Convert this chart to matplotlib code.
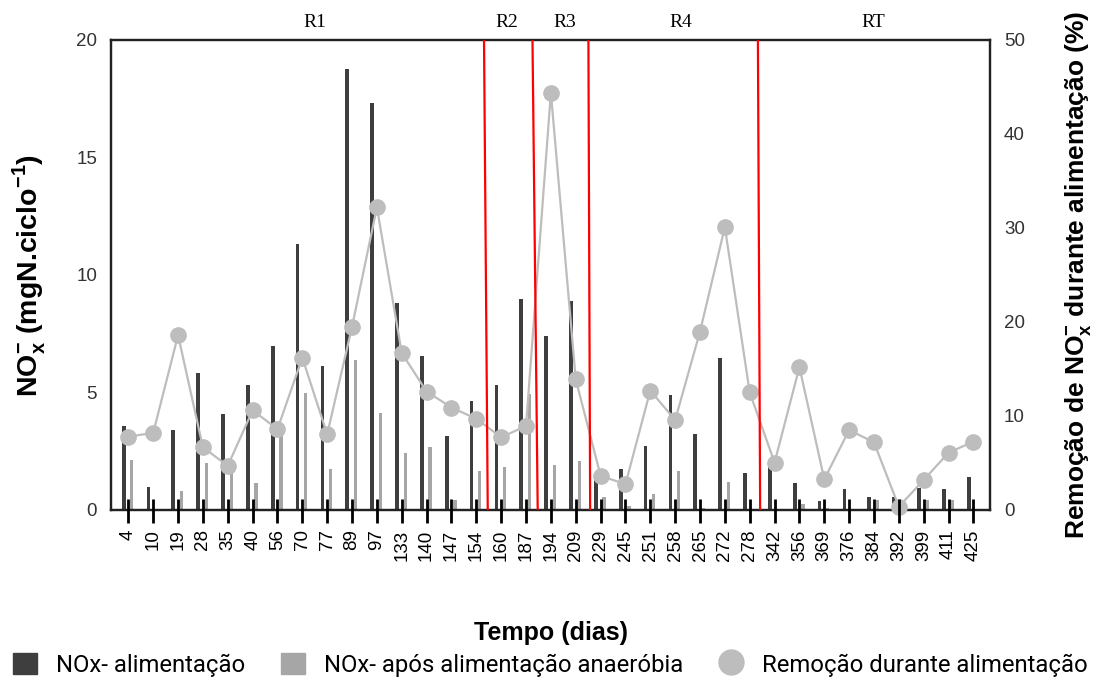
import matplotlib
matplotlib.use("Agg")
import matplotlib.pyplot as plt
from matplotlib.lines import Line2D
from matplotlib.patches import Patch
import numpy as np

plt.rcParams['font.family'] = ['Liberation Sans', 'DejaVu Sans']
plt.rcParams['mathtext.fontset'] = 'custom'
plt.rcParams['mathtext.rm'] = 'Liberation Sans'
plt.rcParams['mathtext.bf'] = 'Liberation Sans:bold'

dias = [4, 10, 19, 28, 35, 40, 56, 70, 77, 89, 97, 133, 140, 147, 154, 160, 187,
        194, 209, 229, 245, 251, 258, 265, 272, 278, 342, 356, 369, 376, 384, 392,
        399, 411, 425]
nox_alim = [3.57, 0.99, 3.4, 5.82, 4.07, 5.32, 6.98, 11.3, 6.14, 18.75, 17.33,
            8.82, 6.57, 3.16, 4.65, 5.32, 8.99, 7.4, 8.91, 1.42, 1.73, 2.74, 4.89,
            3.23, 6.48, 1.56, 1.99, 1.16, 0.4, 0.89, 0.57, 0.54, 0.95, 0.89, 1.42]
nox_anaer = [2.13, 0.05, 0.82, 1.99, 1.84, 1.16, 3.4, 4.99, 1.73, 6.38, 4.14,
             2.41, 2.67, 0.43, 1.66, 1.82, 4.92, 1.91, 2.09, 0.57, 0.15, 0.67, 1.66,
             0.1, 1.21, 0.05, 0.05, 0.26, 0.07, 0.0, 0.43, 0.0, 0.43, 0.43, 0.0]
remocao = [7.8, 8.2, 18.6, 6.67, 4.7, 10.6, 8.6, 16.2, 8.05, 19.5, 32.2, 16.7,
           12.6, 10.9, 9.7, 7.73, 8.94, 44.4, 13.9, 3.65, 2.73, 12.7, 9.57, 18.97,
           30.1, 12.5, 5.04, 15.2, 3.26, 8.5, 7.2, 0.35, 3.19, 6.1, 7.27]
# region boundaries (category position at top, at bottom) and region labels
fronteiras = [(14.31, 14.46), (16.26, 16.47), (18.51, 18.58), (25.33, 25.42)]
regioes = ['R1', 'R2', 'R3', 'R4', 'RT']
regioes_pos = [7.51, 15.24, 17.57, 22.24, 29.97]

c_dark = '#3e3e3e'
c_light = '#a6a6a6'
c_circ = '#bdbdbd'

fig = plt.figure(figsize=(11.03, 6.86), dpi=100)
ax = fig.add_axes([0.1006, 0.2566, 0.7970, 0.6851])
x = np.arange(len(dias))

ax.bar(x - 0.19, nox_alim, width=0.15, color=c_dark, zorder=2)
ax.bar(x + 0.14, nox_anaer, width=0.13, color=c_light, zorder=2)
ax.set_ylim(0, 20)
ax.set_xlim(-0.7, len(dias) - 1 + 0.67)
ax.set_yticks([0, 5, 10, 15, 20])
ax.tick_params(axis='y', length=0, labelsize=13.5, labelcolor='#333333', pad=10)
ax.set_xticks(x)
ax.set_xticklabels([str(d) for d in dias], rotation=90, fontsize=13.5)
ax.tick_params(axis='x', length=0, pad=14)
for s in ax.spines.values():
    s.set_color('#222222')
    s.set_linewidth(1.6)

ax2 = ax.twinx()
ax2.set_ylim(0, 50)
ax2.set_yticks([0, 10, 20, 30, 40, 50])
ax2.tick_params(axis='y', length=0, labelsize=13.5, labelcolor='#333333', pad=10)
ax2.plot(x, remocao, color=c_circ, lw=1.6, marker='o', markersize=11,
         markerfacecolor=c_circ, markeredgecolor=c_circ, zorder=3, clip_on=False)
for s in ax2.spines.values():
    s.set_color('#222222')
    s.set_linewidth(1.6)

for (xt, xb) in fronteiras:
    ax2.plot([xt, xb], [50, 0], color='red', lw=1.6, zorder=4)

# category tick marks crossing the bottom axis, above bars and line
ax2.vlines(x, -0.028, 0.024, transform=ax2.get_xaxis_transform(), colors='black',
           lw=2.0, clip_on=False, zorder=6)

for lab, p in zip(regioes, regioes_pos):
    ax.text(p, 1.038, lab, transform=ax.get_xaxis_transform(), ha='center',
            va='center', fontsize=14, family='Liberation Serif')

ax.set_ylabel(r'NO$_\mathbf{x}^\mathbf{-}$ (mgN.ciclo$^\mathbf{-1}$)', fontsize=20.5,
              fontweight='bold', labelpad=20)
ax2.set_ylabel(r'Remoção de NO$_\mathbf{x}^\mathbf{-}$ durante alimentação (%)',
               fontsize=19, fontweight='bold', labelpad=28)

fig.text(0.4995, 0.077, 'Tempo (dias)', ha='center', va='center', fontsize=18,
         fontweight='bold')

handles = [Patch(color=c_dark), Patch(color=c_light),
           Line2D([], [], marker='o', color='none', markerfacecolor=c_circ,
                  markeredgecolor=c_circ, markersize=18)]
labels = ['NOx- alimentação', 'NOx- após alimentação anaeróbia',
          'Remoção durante alimentação']
fig.legend(handles, labels, loc='center', bbox_to_anchor=(0.499, 0.031), ncol=3,
           frameon=False, handlelength=1.0, handleheight=1.0,
           handletextpad=0.8, columnspacing=1.5,
           prop={'family': ['Roboto', 'Liberation Sans'], 'size': 17.2})

fig.savefig('out.png', dpi=100)
